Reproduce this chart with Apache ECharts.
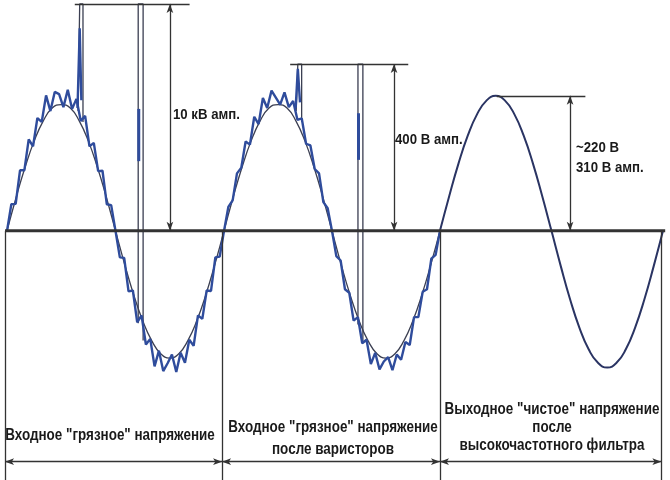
<!DOCTYPE html>
<html><head><meta charset="utf-8">
<script src="https://cdn.jsdelivr.net/npm/echarts@6/dist/echarts.min.js"></script>
<style>html,body{margin:0;padding:0;background:#fff}#c{width:670px;height:480px}</style>
</head><body><div id="c"></div>
<script>
// Time axis in ms, values in "volts-like" units (clean peak = 310)
const dirty1Span = [0, 19.85];
const dirty2Span = [19.85, 39.6];
const cleanSpan = [39.6, 60];

const dirty1Noisy = [0,61,62,139,139,210,194,259,250,311,275,319,314,284,324,280,303,252,264,194,202,137,138,61,59,0,
  -61,-62,-139,-137,-210,-194,-261,-248,-311,-275,-322,-304,-284,-324,-280,-303,-250,-264,-194,-202,-137,-138,-61,-59,0];
const dirty2Noisy = [0,55,70,132,145,205,198,262,245,305,282,322,306,290,318,284,298,255,258,200,196,142,132,66,52,0,
  -58,-68,-134,-142,-206,-198,-258,-250,-306,-280,-318,-300,-290,-320,-284,-296,-255,-262,-198,-198,-140,-134,-64,-55,0];
const dirtyBase = [0,76,146,206,252,282,290,282,252,206,146,76,0,-76,-146,-206,-252,-282,-292,-282,-252,-206,-146,-76,0];
const cleanWave = [0,80,155,219,268,299,310,299,268,219,155,80,0,-81,-157,-222,-272,-303,-314,-303,-272,-222,-157,-81,0];

// spikes [ms, value]
const spikeDark1 = [[6.5,275],[6.65,521],[6.95,521],[6.95,250]];
const spikeBlue1 = [[6.45,282],[6.65,465],[6.8,300]];
const spikeDark2 = [[12.0,-212],[12.0,521],[12.45,521],[12.45,-252]];
const spikeBlue2 = [[12.05,280],[12.05,160]];
const spikeDark3 = [[26.45,275],[26.6,383],[26.95,383],[26.95,250]];
const spikeBlue3 = [[26.4,282],[26.6,372],[26.8,295]];
const spikeDark4 = [[32.1,-215],[32.1,383],[32.55,383],[32.55,-255]];
const spikeBlue4 = [[32.15,270],[32.15,163]];

const baseline = [[-0.18,0],[60.2,0]];
const separatorsX = [-0.18, 19.67, 39.6, 59.85];
const bottomY = -572;
const spanArrowY = -530;
// dimension: vertical arrow x, top value, top line from/to
const dims = [
  {x:14.9, top:521, from:6.2, to:16.7},
  {x:35.4, top:383, from:25.9, to:36.7},
  {x:51.5, top:310, from:44.8, to:52.9}
];
const dimLabels = ['10 кВ амп.', '400 В амп.', '~220 В\n310 В амп.'];
const bottomLabels = ['Входное "грязное" напряжение', 'Входное "грязное" напряжение\nпосле варисторов', 'Выходное "чистое" напряжение\nпосле\nвысокочастотного фильтра'];

function spread(span, vals){
  const n = vals.length - 1;
  return vals.map((v,i)=>[span[0] + (span[1]-span[0])*i/n, v]);
}

const BLUE = '#2f4c9c', DARK = '#3b3f52', NAVY = '#2a3463', INK = '#333', TXT = '#1a1a1a';
const FONT = "'Liberation Sans','Arial',sans-serif";

const mlLines = [];
separatorsX.forEach(x=>mlLines.push([{coord:[x,0]},{coord:[x,bottomY]}]));
dims.forEach(d=>mlLines.push([{coord:[d.from,d.top]},{coord:[d.to,d.top]}]));
const arrowLines = [];
dims.forEach(d=>arrowLines.push([{coord:[d.x,d.top]},{coord:[d.x,0]}]));
for(let i=0;i<3;i++) arrowLines.push([{coord:[separatorsX[i],spanArrowY]},{coord:[separatorsX[i+1],spanArrowY]}]);

const lineS = (data, color, width, smooth, z) => ({type:'line', data, showSymbol:false, symbol:'none', smooth:!!smooth,
  lineStyle:{color, width}, silent:true, animation:false, z:z||2});

function txt(text, x, y, align, size, lh, sx){
  return {type:'text', x, y, scaleX:sx, scaleY:1, z:10,
    style:{text, x:0, y:0, textAlign:align, textVerticalAlign:'middle', font:'bold '+size+'px '+FONT, lineHeight:lh, fill:TXT}};
}

const chart = echarts.init(document.getElementById('c'));
chart.setOption({
  animation:false,
  grid:{left:0,right:0,top:0,bottom:0},
  xAxis:{type:'value',min:-0.64,max:60.64,show:false},
  yAxis:{type:'value',min:-572,max:530,show:false},
  series:[
    lineS(spread(dirty1Span,dirtyBase), DARK, 1.3, true, 2),
    lineS(spread(dirty2Span,dirtyBase), DARK, 1.3, true, 2),
    lineS(spread(dirty1Span,dirty1Noisy), BLUE, 2.4, false, 3),
    lineS(spread(dirty2Span,dirty2Noisy), BLUE, 2.4, false, 3),
    lineS(spikeDark1, DARK, 1.3, false, 2),
    lineS(spikeDark2, DARK, 1.3, false, 2),
    lineS(spikeDark3, DARK, 1.3, false, 2),
    lineS(spikeDark4, DARK, 1.3, false, 2),
    lineS(spikeBlue1, BLUE, 2.4, false, 3),
    lineS(spikeBlue2, BLUE, 3, false, 3),
    lineS(spikeBlue3, BLUE, 2.4, false, 3),
    lineS(spikeBlue4, BLUE, 3, false, 3),
    lineS(spread(cleanSpan,cleanWave), NAVY, 2, true, 3),
    Object.assign(lineS(baseline, INK, 3, false, 4), {
      markLine:{silent:true, animation:false, symbol:['none','none'], label:{show:false},
        lineStyle:{type:'solid', color:INK, width:1.3}, data:mlLines}
    }),
    Object.assign(lineS([], INK, 1, false, 4), {
      markLine:{silent:true, animation:false, symbol:['arrow','arrow'], symbolSize:[5,9], label:{show:false},
        lineStyle:{type:'solid', color:INK, width:1.3}, data:arrowLines}
    })
  ],
  graphic:[
    txt(dimLabels[0], 173, 115, 'left', 15, 16, 0.88),
    txt(dimLabels[1], 395, 140, 'left', 15, 16, 0.88),
    txt(dimLabels[2], 576, 158, 'left', 15, 20, 0.88),
    txt(bottomLabels[0], 110, 436, 'center', 16, 22, 0.84),
    txt(bottomLabels[1], 333, 439, 'center', 16, 22, 0.84),
    txt(bottomLabels[2], 552, 428, 'center', 16, 18, 0.84)
  ]
});
</script></body></html>
